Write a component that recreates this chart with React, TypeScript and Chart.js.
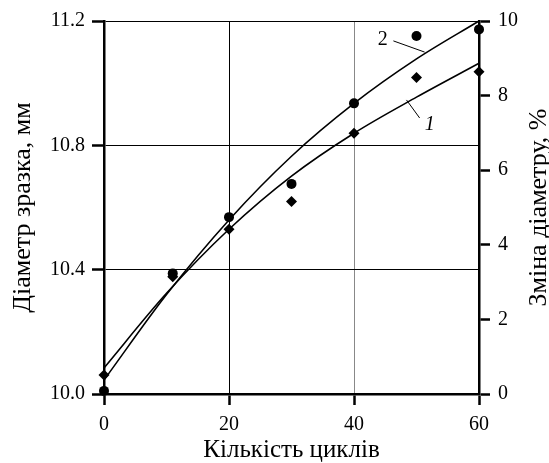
import React, { useEffect, useRef } from "react";
import { Chart, registerables } from "chart.js";
Chart.register(...registerables);

const cycles = [0, 11, 20, 30, 40, 50, 60];
const circleValues = [10.01, 10.388, 10.569, 10.676, 10.935, 11.152, 11.173];
const diamondValues = [10.061, 10.377, 10.53, 10.619, 10.839, 11.018, 11.037];
const curveX = [0, 10, 20, 30, 40, 50, 60];
const curve2Values = [10.045, 10.32, 10.56, 10.765, 10.935, 11.078, 11.2];
const curve1Values = [10.084, 10.324, 10.53, 10.701, 10.839, 10.955, 11.064];
const xTicks = [0, 20, 40, 60];
const leftTicks = [10.0, 10.4, 10.8, 11.2];
const rightTicks = [0, 2, 4, 6, 8, 10];
const xTitle = "Кількість циклів";
const leftTitle = "Діаметр зразка, мм";
const rightTitle = "Зміна діаметру, %";

const FONT = "'Liberation Serif', 'DejaVu Serif', serif";

const labelsPlugin = {
  id: "curveLabels",
  afterDatasetsDraw(chart: any) {
    const { ctx, scales, chartArea } = chart;
    const x = scales.x;
    const y = scales.y;
    const px = (v: number) => x.getPixelForValue(v);
    const py = (v: number) => y.getPixelForValue(v);
    ctx.save();
    ctx.strokeStyle = "#000";
    ctx.lineWidth = 1;
    ctx.beginPath();
    ctx.moveTo(px(46.3), py(11.136));
    ctx.lineTo(px(51.3), py(11.1));
    ctx.moveTo(px(48.4), py(10.946));
    ctx.lineTo(px(50.5), py(10.888));
    ctx.stroke();
    ctx.fillStyle = "#000";
    ctx.textAlign = "center";
    ctx.textBaseline = "middle";
    ctx.font = `20px ${FONT}`;
    ctx.fillText("2", px(44.6), py(11.139));
    ctx.font = `italic 20px ${FONT}`;
    ctx.fillText("1", px(52.1), py(10.865));

    // axis titles
    const midY = (chartArea.top + chartArea.bottom) / 2;
    const midX = (chartArea.left + chartArea.right) / 2;
    ctx.font = `25px ${FONT}`;
    ctx.textBaseline = "alphabetic";
    ctx.textAlign = "center";
    ctx.fillText(xTitle, midX, 457);
    ctx.font = `26px ${FONT}`;
    ctx.save();
    ctx.translate(30, midY);
    ctx.rotate(-Math.PI / 2);
    ctx.fillText(leftTitle, 0, 0);
    ctx.restore();
    ctx.save();
    ctx.translate(546, midY);
    ctx.rotate(-Math.PI / 2);
    ctx.fillText(rightTitle, 0, 0);
    ctx.restore();
    ctx.restore();
  },
};

export default function App() {
  const ref = useRef<HTMLCanvasElement>(null);
  useEffect(() => {
    if (!ref.current) return;
    const pts = (xs: number[], ys: number[]) => xs.map((v, i) => ({ x: v, y: ys[i] }));
    const chart = new Chart(ref.current, {
      type: "scatter",
      data: {
        datasets: [
          {
            data: pts(curveX, curve2Values),
            showLine: true,
            borderColor: "#000",
            borderWidth: 1.6,
            pointRadius: 0,
            tension: 0.4,
            cubicInterpolationMode: "monotone",
          } as any,
          {
            data: pts(curveX, curve1Values),
            showLine: true,
            borderColor: "#000",
            borderWidth: 1.6,
            pointRadius: 0,
            tension: 0.4,
            cubicInterpolationMode: "monotone",
          } as any,
          {
            data: pts(cycles, circleValues),
            pointStyle: "circle",
            pointRadius: 5,
            backgroundColor: "#000",
            borderColor: "#000",
            borderWidth: 0,
          },
          {
            data: pts(cycles, diamondValues),
            pointStyle: "rectRot",
            pointRadius: 5.5,
            backgroundColor: "#000",
            borderColor: "#000",
            borderWidth: 0,
          },
        ],
      },
      options: {
        animation: false,
        responsive: false,
        clip: false as any,
        layout: { padding: { top: 21, left: 0, right: 0, bottom: 0 } },
        plugins: { legend: { display: false }, tooltip: { enabled: false } },
        scales: {
          x: {
            type: "linear",
            min: 0,
            max: 60,
            afterBuildTicks: (s: any) => {
              s.ticks = xTicks.map((v) => ({ value: v }));
            },
            afterFit: (s: any) => {
              s.height = 69;
            },
            border: { display: true, color: "#000", width: 2.5 },
            grid: {
              color: (c: any) => (c.tick && c.tick.value === 40 ? "#888" : "#000"),
              lineWidth: 1,
              drawTicks: true,
              tickLength: 11,
              tickWidth: 2.5,
              tickColor: "#000",
            },
            ticks: {
              color: "#000",
              font: { family: FONT, size: 20 },
              padding: 8,
              maxRotation: 0,
            },
          },
          y: {
            type: "linear",
            position: "left",
            min: 10,
            max: 11.2,
            afterBuildTicks: (s: any) => {
              s.ticks = leftTicks.map((v) => ({ value: v }));
            },
            afterFit: (s: any) => {
              s.width = 104;
            },
            border: { display: true, color: "#000", width: 2.5 },
            grid: {
              color: "#000",
              lineWidth: 1,
              drawTicks: true,
              tickLength: 12,
              tickWidth: 2.5,
              tickColor: "#000",
            },
            ticks: {
              color: "#000",
              font: { family: FONT, size: 20 },
              padding: 7,
              callback: (v: any) => Number(v).toFixed(1),
            },
          },
          y2: {
            type: "linear",
            position: "right",
            min: 0,
            max: 10,
            afterBuildTicks: (s: any) => {
              s.ticks = rightTicks.map((v) => ({ value: v }));
            },
            afterFit: (s: any) => {
              s.width = 70;
            },
            border: { display: true, color: "#000", width: 2.5 },
            grid: {
              drawOnChartArea: false,
              drawTicks: true,
              tickLength: 11,
              tickWidth: 2.5,
              tickColor: "#000",
            },
            ticks: {
              color: "#000",
              font: { family: FONT, size: 20 },
              padding: 8,
            },
          },
        },
      },
      plugins: [labelsPlugin],
    });
    return () => chart.destroy();
  }, []);
  return (
    <canvas
      ref={ref}
      width={549}
      height={463}
      style={{ position: "fixed", left: 0, top: 0, width: 549, height: 463, background: "#fff" }}
    />
  );
}
